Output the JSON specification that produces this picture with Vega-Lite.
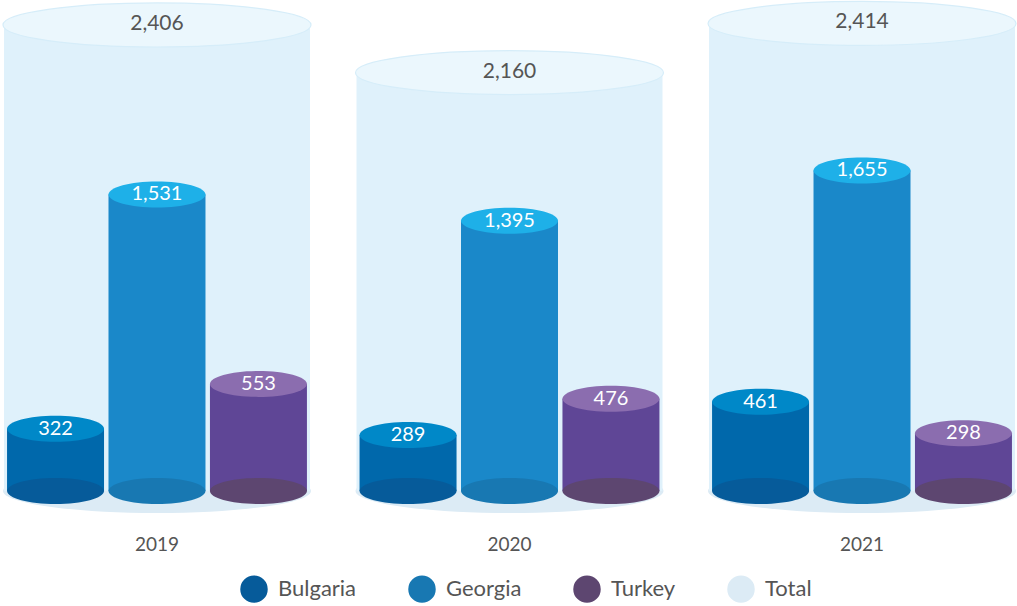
{
  "$schema": "https://vega.github.io/schema/vega-lite/v6.json",
  "width": 1017,
  "height": 491,
  "autosize": {"type": "none"},
  "padding": {"left": 0, "top": 0, "right": 0, "bottom": 115},
  "background": "white",
  "config": {"view": {"stroke": null}, "font": "Lato"},
  "data": {
    "values": [
      {"year": "2019", "country": "Bulgaria", "value": 322},
      {"year": "2019", "country": "Georgia", "value": 1531},
      {"year": "2019", "country": "Turkey", "value": 553},
      {"year": "2019", "country": "Total", "value": 2406},
      {"year": "2020", "country": "Bulgaria", "value": 289},
      {"year": "2020", "country": "Georgia", "value": 1395},
      {"year": "2020", "country": "Turkey", "value": 476},
      {"year": "2020", "country": "Total", "value": 2160},
      {"year": "2021", "country": "Bulgaria", "value": 461},
      {"year": "2021", "country": "Georgia", "value": 1655},
      {"year": "2021", "country": "Turkey", "value": 298},
      {"year": "2021", "country": "Total", "value": 2414}
    ]
  },
  "encoding": {
    "x": {
      "field": "year",
      "type": "nominal",
      "scale": {"range": [4, 1015], "paddingInner": 0.132, "paddingOuter": 0},
      "axis": {"title": null, "domain": false, "ticks": false, "grid": false, "labelAngle": 0, "labelFontSize": 19, "labelColor": "#555555", "labelPadding": 44, "labelFont": "Lato"}
    },
    "y": {
      "field": "value",
      "type": "quantitative",
      "scale": {"domain": [0, 2535], "nice": false, "zero": true},
      "axis": null
    }
  },
  "layer": [
    {
      "transform": [{"filter": "datum.country === 'Total'"}],
      "mark": {"type": "point", "filled": true, "opacity": 1, "shape": "M-1,0A1,0.143,0,0,1,1,0A1,0.143,0,0,1,-1,0Z", "size": 94864},
      "encoding": {
        "y": {"datum": 0, "type": "quantitative"},
        "color": {
          "field": "country", "type": "nominal",
          "scale": {"domain": ["Bulgaria", "Georgia", "Turkey", "Total"], "range": ["#065b9a", "#1878b2", "#5d4670", "#dcebf5"]},
          "legend": {"title": null, "orient": "none", "legendX": 240, "legendY": 575, "direction": "horizontal", "symbolType": "circle", "symbolSize": 755, "symbolStrokeWidth": 0, "symbolOpacity": 1, "labelFontSize": 22, "labelColor": "#555555", "labelFont": "Lato", "labelOffset": 10, "columnPadding": 51}
        }
      }
    },
    {
      "transform": [{"filter": "datum.country === 'Total'"}],
      "mark": {"type": "bar", "color": "#dff1fb"},
      "encoding": {}
    },
    {
      "transform": [{"filter": "datum.country === 'Total'"}],
      "mark": {"type": "point", "filled": true, "opacity": 1, "color": "#ebf7fd", "stroke": "#d6edf9", "strokeWidth": 1.2, "shape": "M-1,0A1,0.143,0,0,1,1,0A1,0.143,0,0,1,-1,0Z", "size": 94864},
      "encoding": {}
    },
    {
      "transform": [{"filter": "datum.country === 'Total'"}],
      "mark": {"type": "text", "color": "#555555", "fontSize": 21, "baseline": "middle", "dy": -1, "font": "Lato"},
      "encoding": {"text": {"field": "value", "type": "quantitative", "format": ","}}
    },
    {
      "transform": [{"filter": "datum.country !== 'Total'"}],
      "mark": {"type": "bar"},
      "encoding": {
        "xOffset": {"field": "country", "type": "nominal", "scale": {"domain": ["Bulgaria", "Georgia", "Turkey"], "paddingInner": 0.044, "paddingOuter": 0.03}},
        "fill": {"field": "country", "type": "nominal", "scale": {"domain": ["Bulgaria", "Georgia", "Turkey"], "range": ["#0068ab", "#1a88c9", "#5f4696"]}, "legend": null}
      }
    },
    {
      "transform": [{"filter": "datum.country !== 'Total'"}],
      "mark": {"type": "point", "filled": true, "opacity": 1, "shape": "M-1,0A1,0.268,0,0,1,1,0A1,0.268,0,0,1,-1,0Z", "size": 9409},
      "encoding": {
        "xOffset": {"field": "country", "type": "nominal", "scale": {"domain": ["Bulgaria", "Georgia", "Turkey"], "paddingInner": 0.044, "paddingOuter": 0.03}},
        "y": {"datum": 0, "type": "quantitative"},
        "color": {"field": "country", "type": "nominal"}
      }
    },
    {
      "transform": [{"filter": "datum.country !== 'Total'"}],
      "mark": {"type": "point", "filled": true, "opacity": 1, "shape": "M-1,0A1,0.268,0,0,1,1,0A1,0.268,0,0,1,-1,0Z", "size": 9409},
      "encoding": {
        "xOffset": {"field": "country", "type": "nominal", "scale": {"domain": ["Bulgaria", "Georgia", "Turkey"], "paddingInner": 0.044, "paddingOuter": 0.03}},
        "fill": {"field": "country", "type": "nominal", "scale": {"domain": ["Bulgaria", "Georgia", "Turkey"], "range": ["#0088c8", "#1eb0e8", "#8b6daf"]}, "legend": null}
      }
    },
    {
      "transform": [{"filter": "datum.country !== 'Total'"}],
      "mark": {"type": "text", "color": "white", "fontSize": 20, "baseline": "middle", "dy": 0, "font": "Lato"},
      "encoding": {
        "xOffset": {"field": "country", "type": "nominal", "scale": {"domain": ["Bulgaria", "Georgia", "Turkey"], "paddingInner": 0.044, "paddingOuter": 0.03}},
        "text": {"field": "value", "type": "quantitative", "format": ","}
      }
    }
  ],
  "resolve": {"scale": {"fill": "independent"}}
}
